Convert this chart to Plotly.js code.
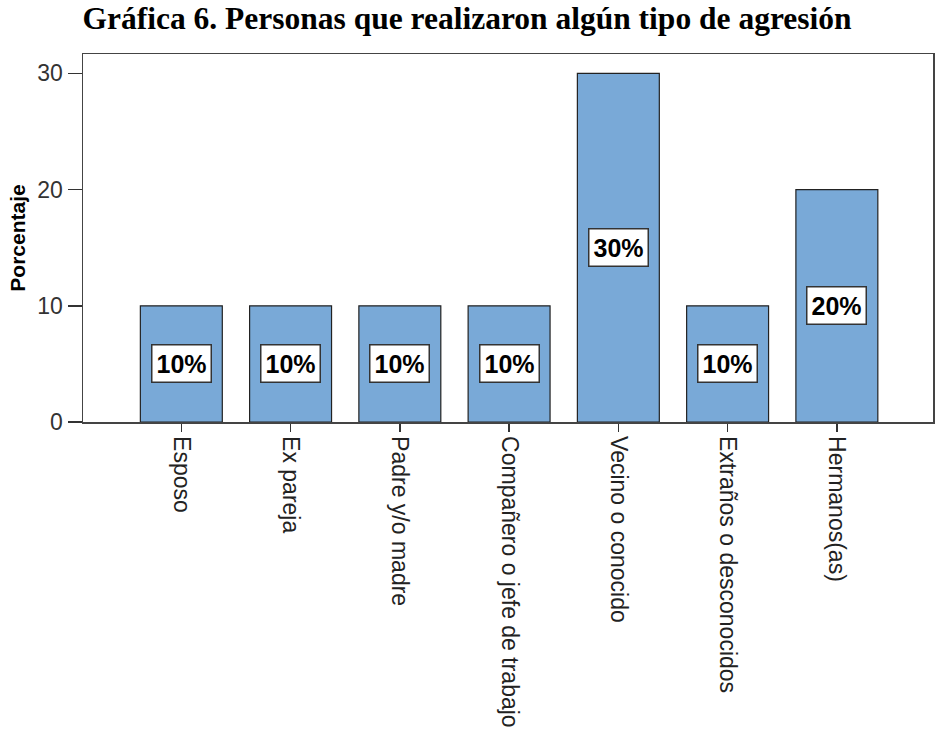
<!DOCTYPE html>
<html>
<head>
<meta charset="utf-8">
<script src="https://cdn.plot.ly/plotly-3.0.1.min.js"></script>
<style>html,body{margin:0;padding:0;background:#fff;}#chart{width:936px;height:734px;}</style>
</head>
<body>
<div id="chart"></div>
<script>
const categories = ["Esposo", "Ex pareja", "Padre y/o madre", "Compañero o jefe de trabajo", "Vecino o conocido", "Extraños o desconocidos", "Hermanos(as)"];
const percentages = [10, 10, 10, 10, 30, 10, 20];
const yTickVals = [0, 10, 20, 30];
const yTickText = ["0", "10", "20", "30"];
const chartTitle = "Gráfica 6. Personas que realizaron algún tipo de agresión";
const yTitle = "Porcentaje";

const sans = "Liberation Sans, Arial, sans-serif";
const serif = "Liberation Serif, Times New Roman, serif";

const trace = {
  type: "bar",
  x: categories,
  y: percentages,
  width: 0.75,
  marker: { color: "#79a9d7", line: { color: "#222222", width: 1.2 } },
  hoverinfo: "none"
};

const annotations = categories.map((c, i) => ({
  x: c,
  y: percentages[i] / 2,
  xref: "x",
  yref: "y",
  text: "<b>" + percentages[i] + "%</b>",
  showarrow: false,
  bgcolor: "#ffffff",
  bordercolor: "#333333",
  borderwidth: 1.5,
  borderpad: 4,
  font: { family: sans, size: 25, color: "#000000" }
}));

const layout = {
  width: 936,
  height: 734,
  margin: { l: 83, r: 3, t: 54, b: 312, pad: 0 },
  paper_bgcolor: "#ffffff",
  plot_bgcolor: "#ffffff",
  showlegend: false,
  title: {
    text: "<b>" + chartTitle + "</b>",
    font: { family: serif, size: 31.5, color: "#000000" },
    x: 467 / 936,
    xanchor: "center",
    xref: "container",
    yref: "container",
    y: 1 - 7 / 734,
    yanchor: "top"
  },
  xaxis: {
    type: "category",
    range: [-0.9, 6.88],
    tickangle: 90,
    ticks: "outside",
    ticklen: 8,
    tickwidth: 1.5,
    tickcolor: "#333333",
    showline: true,
    linecolor: "#444444",
    linewidth: 1.5,
    mirror: true,
    showgrid: false,
    zeroline: false,
    tickfont: { family: sans, size: 23, color: "#222222" }
  },
  yaxis: {
    range: [0, 31.67],
    tickvals: yTickVals,
    ticktext: yTickText,
    ticks: "outside",
    ticklen: 14,
    tickwidth: 1.5,
    tickcolor: "#333333",
    showline: true,
    linecolor: "#444444",
    linewidth: 1.5,
    mirror: true,
    showgrid: false,
    zeroline: false,
    tickfont: { family: sans, size: 23, color: "#333333" },
    title: {
      text: "<b>" + yTitle + "</b>",
      font: { family: sans, size: 21, color: "#000000" },
      standoff: 6
    }
  },
  annotations: annotations
};

Plotly.newPlot("chart", [trace], layout, { staticPlot: true, displayModeBar: false });
</script>
</body>
</html>
